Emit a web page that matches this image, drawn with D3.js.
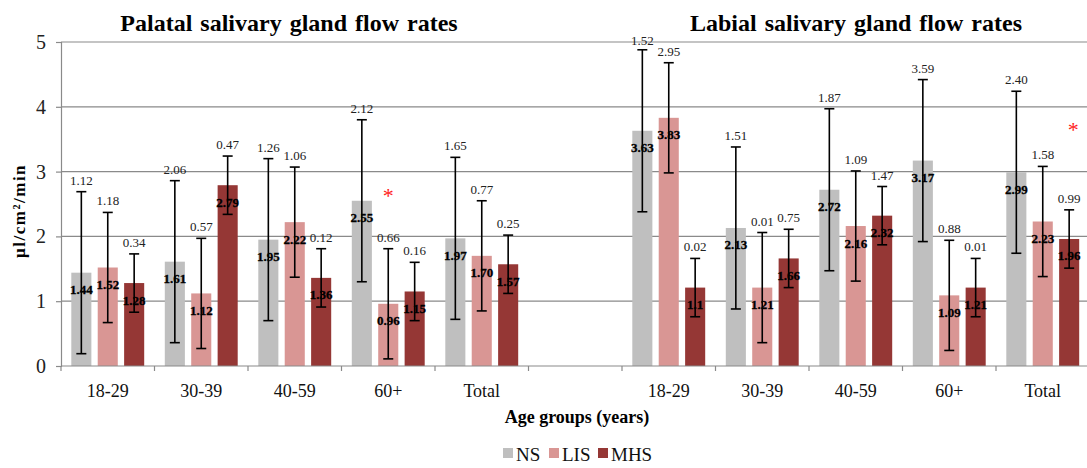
<!DOCTYPE html>
<html>
<head>
<meta charset="utf-8">
<script src="https://cdn.jsdelivr.net/npm/d3@7"></script>
<style>
  body { margin: 0; background: #fff; }
</style>
</head>
<body>
<script>
var width = 1087;
var height = 468;

// data
var series = ["NS", "LIS", "MHS"];
var seriesColors = ["#bfbfbf", "#d99694", "#953735"];
var ageGroups = ["18-29", "30-39", "40-59", "60+", "Total"];
var panels = ["Palatal salivary gland flow rates", "Labial salivary gland flow rates"];

var palatalNS = [1.44, 1.61, 1.95, 2.55, 1.97];
var palatalLIS = [1.52, 1.12, 2.22, 0.96, 1.70];
var palatalMHS = [1.28, 2.79, 1.36, 1.15, 1.57];
var labialNS = [3.63, 2.13, 2.72, 3.17, 2.99];
var labialLIS = [3.83, 1.21, 2.16, 1.09, 2.23];
var labialMHS = [1.21, 1.66, 2.32, 1.21, 1.96];

// small numbers printed above the error bars
var palatalNoteNS = [1.12, 2.06, 1.26, 2.12, 1.65];
var palatalNoteLIS = [1.18, 0.57, 1.06, 0.66, 0.77];
var palatalNoteMHS = [0.34, 0.47, 0.12, 0.16, 0.25];
var labialNoteNS = [1.52, 1.51, 1.87, 3.59, 2.40];
var labialNoteLIS = [2.95, 0.01, 1.09, 0.88, 1.58];
var labialNoteMHS = [0.02, 0.75, 1.47, 0.01, 0.99];

// error bar half-length per series
var errorSize = [1.25, 0.85, 0.45];

// the labial MHS 18-29 bar is labelled "1.1" in the original
var labelOverride = { "1-0-2": "1.1" };

// significance stars: panel, age group, series, height
var stars = [[0, 3, 1, 2.69], [1, 4, 2, 3.70]];

var yTicks = [0, 1, 2, 3, 4, 5];

var values = [[palatalNS, palatalLIS, palatalMHS], [labialNS, labialLIS, labialMHS]];
var notes = [[palatalNoteNS, palatalNoteLIS, palatalNoteMHS], [labialNoteNS, labialNoteLIS, labialNoteMHS]];

// 11 slots on the axis: 5 groups, an empty slot, 5 groups
var slots = d3.range(11);
var slotLabels = ageGroups.concat([""]).concat(ageGroups);

var rows = [];
values.forEach(function(panel, p) {
  panel.forEach(function(vals, s) {
    vals.forEach(function(v, g) {
      var key = p + "-" + g + "-" + s;
      rows.push({
        slot: p * 6 + g,
        series: series[s],
        s: s,
        v: v,
        err: errorSize[s],
        note: notes[p][s][g].toFixed(2),
        label: labelOverride[key] || v.toFixed(2)
      });
    });
  });
});

var left = 61;
var xScale = d3.scaleBand()
  .domain(slots)
  .range([left, left + 93.5 * 11]);

var xInner = d3.scaleBand()
  .domain(series)
  .range([0, xScale.bandwidth()])
  .paddingInner(0.24)
  .paddingOuter(0.39);

var yScale = d3.scaleLinear()
  .domain([0, 5])
  .range([366, 42]);

var svg = d3.select("body")
  .append("svg")
  .attr("width", width)
  .attr("height", height);

// gridlines
svg.append("g")
  .selectAll("line")
  .data(yTicks.slice(1))
  .enter()
  .append("line")
  .attr("x1", left)
  .attr("x2", width)
  .attr("y1", function(d) { return yScale(d); })
  .attr("y2", function(d) { return yScale(d); })
  .attr("stroke", "#8a8a8a")
  .attr("stroke-width", 1.2);

// y axis
var yAxis = svg.append("g")
  .attr("transform", "translate(" + left + ",0)")
  .call(d3.axisLeft(yScale).tickValues(yTicks).tickSize(5).tickPadding(10).tickFormat(d3.format("d")));
yAxis.select(".domain").attr("stroke", "#8a8a8a").attr("stroke-width", 1.2);
yAxis.selectAll(".tick line").attr("stroke", "#8a8a8a").attr("stroke-width", 1.2);
yAxis.selectAll(".tick text")
  .attr("font-size", "20px")
  .attr("fill", "#222");

// bars
function barX(d) {
  return xScale(d.slot) + xInner(d.series);
}

svg.append("g")
  .selectAll("rect")
  .data(rows)
  .enter()
  .append("rect")
  .attr("x", barX)
  .attr("y", function(d) { return yScale(d.v); })
  .attr("width", xInner.bandwidth())
  .attr("height", function(d) { return yScale(0) - yScale(d.v); })
  .attr("fill", function(d) { return seriesColors[d.s]; });

// x axis (drawn over bar bottoms)
var xAxisY = yScale(0);
svg.append("line")
  .attr("x1", left)
  .attr("x2", width)
  .attr("y1", xAxisY)
  .attr("y2", xAxisY)
  .attr("stroke", "#8a8a8a")
  .attr("stroke-width", 1.2);

svg.append("g")
  .selectAll("line")
  .data(slots.concat([11]))
  .enter()
  .append("line")
  .attr("x1", function(d) { return left + d * xScale.step(); })
  .attr("x2", function(d) { return left + d * xScale.step(); })
  .attr("y1", xAxisY)
  .attr("y2", xAxisY + 5)
  .attr("stroke", "#8a8a8a")
  .attr("stroke-width", 1.2);

svg.append("g")
  .selectAll("text")
  .data(slots)
  .enter()
  .append("text")
  .text(function(d) { return slotLabels[d]; })
  .attr("x", function(d) { return xScale(d) + xScale.bandwidth() / 2; })
  .attr("y", 397)
  .attr("text-anchor", "middle")
  .attr("font-size", "18px")
  .attr("fill", "#111");

// error bars
var cx = function(d) { return barX(d) + xInner.bandwidth() / 2; };
var eb = svg.append("g")
  .selectAll("g")
  .data(rows)
  .enter()
  .append("g")
  .attr("stroke", "#000")
  .attr("stroke-width", 1.6);

eb.append("line")
  .attr("x1", cx)
  .attr("x2", cx)
  .attr("y1", function(d) { return yScale(d.v + d.err); })
  .attr("y2", function(d) { return yScale(d.v - d.err); });
eb.append("line")
  .attr("x1", function(d) { return cx(d) - 5; })
  .attr("x2", function(d) { return cx(d) + 5; })
  .attr("y1", function(d) { return yScale(d.v + d.err); })
  .attr("y2", function(d) { return yScale(d.v + d.err); });
eb.append("line")
  .attr("x1", function(d) { return cx(d) - 5; })
  .attr("x2", function(d) { return cx(d) + 5; })
  .attr("y1", function(d) { return yScale(d.v - d.err); })
  .attr("y2", function(d) { return yScale(d.v - d.err); });

// value labels inside bars
svg.append("g")
  .selectAll("text")
  .data(rows)
  .enter()
  .append("text")
  .text(function(d) { return d.label; })
  .attr("x", cx)
  .attr("y", function(d) { return yScale(d.v) + 21.5; })
  .attr("text-anchor", "middle")
  .attr("font-size", "13px")
  .attr("font-weight", "bold")
  .attr("stroke", "#000")
  .attr("stroke-width", 0.3)
  .attr("fill", "#000");

// notes above the error bars
svg.append("g")
  .selectAll("text")
  .data(rows)
  .enter()
  .append("text")
  .text(function(d) { return d.note; })
  .attr("x", cx)
  .attr("y", function(d) { return Math.max(yScale(d.v + d.err) - 7, 45); })
  .attr("text-anchor", "middle")
  .attr("font-size", "13px")
  .attr("fill", "#222");

// stars
svg.append("g")
  .selectAll("text")
  .data(stars)
  .enter()
  .append("text")
  .text("*")
  .attr("x", function(d) { return xScale(d[0] * 6 + d[1]) + xInner(series[d[2]]) + xInner.bandwidth() / 2 + d[0] * 4; })
  .attr("y", function(d) { return yScale(d[3]) + 11; })
  .attr("text-anchor", "middle")
  .attr("font-size", "22px")
  .attr("fill", "#ff2020");

// titles
svg.append("g")
  .selectAll("text")
  .data(panels)
  .enter()
  .append("text")
  .text(function(d) { return d; })
  .attr("x", function(d, i) { return i === 0 ? 289 : 856; })
  .attr("y", 31)
  .attr("text-anchor", "middle")
  .attr("font-size", "24px")
  .attr("font-weight", "bold")
  .attr("word-spacing", "2px")
  .attr("fill", "#000");

svg.append("text")
  .text("µl/cm²/min")
  .attr("transform", "translate(25,211) rotate(-90)")
  .attr("text-anchor", "middle")
  .attr("font-size", "17px")
  .attr("font-weight", "bold")
  .attr("letter-spacing", "1.5px");

svg.append("text")
  .text("Age groups (years)")
  .attr("x", 577)
  .attr("y", 423)
  .attr("text-anchor", "middle")
  .attr("font-size", "18px")
  .attr("font-weight", "bold");

// legend
var legend = svg.append("g")
  .selectAll("g")
  .data(series)
  .enter()
  .append("g")
  .attr("transform", function(d, i) { return "translate(" + [503, 549, 598][i] + ",448)"; });
legend.append("rect")
  .attr("width", 10)
  .attr("height", 10)
  .attr("fill", function(d, i) { return seriesColors[i]; });
legend.append("text")
  .text(function(d) { return d; })
  .attr("x", 13)
  .attr("y", 13)
  .attr("font-size", "19px")
  .attr("fill", "#111");

// Times-like serif everywhere
svg.selectAll("text").style("font-family", "'Liberation Serif', 'Times New Roman', serif");
</script>
</body>
</html>
